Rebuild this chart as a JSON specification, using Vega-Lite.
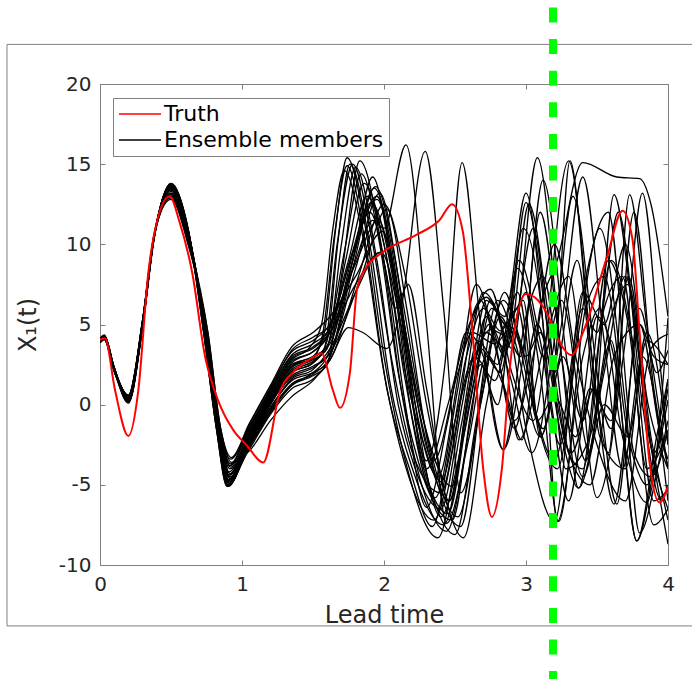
{
"$schema":"https://vega.github.io/schema/vega-lite/v6.json",
"width":568,"height":481,
"autosize":{"type":"none"},
"padding":{"left":100,"top":84,"right":24,"bottom":114},
"background":"white",
"config":{"view":{"stroke":"#808080","strokeWidth":1},"font":"DejaVu Sans"},
"datasets":{
"frame":[{"x1":-0.655,"x2":4.4,"y1":22.47,"y2":-13.8}],
"vline":[{"t":3.19,"y1":24.77,"y2":-17.5}],
"truth":[{"t":0,"v":4.05},{"t":0.035,"v":4.15},{"t":0.106,"v":0.9},{"t":0.2,"v":-1.95},{"t":0.27,"v":0.9},{"t":0.34,"v":8.2},{"t":0.4,"v":11.4},{"t":0.49,"v":13.0},{"t":0.56,"v":11.4},{"t":0.65,"v":8.2},{"t":0.74,"v":3.0},{"t":0.83,"v":0.3},{"t":0.94,"v":-1.6},{"t":1.03,"v":-2.5},{"t":1.15,"v":-3.6},{"t":1.27,"v":0.9},{"t":1.37,"v":2.1},{"t":1.49,"v":2.9},{"t":1.56,"v":3.2},{"t":1.64,"v":0.9},{"t":1.69,"v":-0.2},{"t":1.76,"v":2.0},{"t":1.81,"v":7.2},{"t":1.87,"v":8.5},{"t":1.99,"v":9.5},{"t":2.23,"v":10.6},{"t":2.39,"v":11.5},{"t":2.48,"v":12.5},{"t":2.555,"v":10.8},{"t":2.62,"v":4.9},{"t":2.7,"v":-4.1},{"t":2.76,"v":-7.0},{"t":2.83,"v":-4.0},{"t":2.89,"v":2.6},{"t":2.92,"v":4.7},{"t":3.0,"v":6.9},{"t":3.17,"v":5.3},{"t":3.22,"v":4.2},{"t":3.32,"v":3.1},{"t":3.41,"v":4.7},{"t":3.57,"v":9.2},{"t":3.68,"v":12.1},{"t":3.75,"v":10.3},{"t":3.8,"v":4.5},{"t":3.87,"v":-3.6},{"t":3.94,"v":-6.1},{"t":4.0,"v":-5.1}],
"ens":[
{"id":1,"t":0,"v":4.0},{"id":1,"t":0.03,"v":4.2},{"id":1,"t":0.1,"v":2.2},{"id":1,"t":0.2,"v":0.3},{"id":1,"t":0.3,"v":5.0},{"id":1,"t":0.38,"v":10.4},{"id":1,"t":0.5,"v":13.7},{"id":1,"t":0.62,"v":10.9},{"id":1,"t":0.74,"v":4.5},{"id":1,"t":0.83,"v":-1.5},{"id":1,"t":0.905,"v":-5.1},
{"id":1,"t":1.05,"v":-2.0},{"id":1,"t":1.2,"v":0.5},{"id":1,"t":1.35,"v":2.5},{"id":1,"t":1.5,"v":3.0},{"id":1,"t":1.58,"v":4.5},{"id":1,"t":1.66,"v":11},{"id":1,"t":1.74,"v":15.4},{"id":1,"t":1.86,"v":11.5},{"id":1,"t":2.0,"v":3},{"id":1,"t":2.15,"v":-3.5},{"id":1,"t":2.38,"v":-8.3},{"id":1,"t":2.55,"v":-1},{"id":1,"t":2.66,"v":4.0},{"id":1,"t":2.8,"v":2.5},{"id":1,"t":2.94,"v":8.5},{"id":1,"t":3.1,"v":2},{"id":1,"t":3.23,"v":-7.3},{"id":1,"t":3.42,"v":6},{"id":1,"t":3.55,"v":8},{"id":1,"t":3.72,"v":-2},{"id":1,"t":3.85,"v":-5},{"id":1,"t":4.0,"v":1.6},
{"id":2,"t":0,"v":4.1},{"id":2,"t":0.03,"v":4.3},{"id":2,"t":0.1,"v":2.3},{"id":2,"t":0.2,"v":0.5},{"id":2,"t":0.3,"v":5.2},{"id":2,"t":0.38,"v":10.5},{"id":2,"t":0.5,"v":13.6},{"id":2,"t":0.62,"v":10.8},{"id":2,"t":0.745,"v":4.5},{"id":2,"t":0.835,"v":-1.5},{"id":2,"t":0.91,"v":-4.9},
{"id":2,"t":1.05,"v":-2.4},{"id":2,"t":1.2,"v":0},{"id":2,"t":1.35,"v":2.0},{"id":2,"t":1.5,"v":2.6},{"id":2,"t":1.6,"v":4.0},{"id":2,"t":1.68,"v":10.5},{"id":2,"t":1.76,"v":15.0},{"id":2,"t":1.9,"v":10},{"id":2,"t":2.05,"v":1},{"id":2,"t":2.2,"v":-4},{"id":2,"t":2.42,"v":-7.5},{"id":2,"t":2.6,"v":0.5},{"id":2,"t":2.72,"v":5.5},{"id":2,"t":2.85,"v":3},{"id":2,"t":3.0,"v":12.6},{"id":2,"t":3.15,"v":5},{"id":2,"t":3.3,"v":-3},{"id":2,"t":3.4,"v":-4},{"id":2,"t":3.6,"v":9},{"id":2,"t":3.75,"v":4},{"id":2,"t":3.9,"v":-6},{"id":2,"t":4.0,"v":-5.3},
{"id":3,"t":0,"v":3.9},{"id":3,"t":0.03,"v":4.1},{"id":3,"t":0.1,"v":2.1},{"id":3,"t":0.2,"v":0.1},{"id":3,"t":0.3,"v":4.8},{"id":3,"t":0.38,"v":10.3},{"id":3,"t":0.5,"v":13.8},{"id":3,"t":0.62,"v":11.0},{"id":3,"t":0.735,"v":4.5},{"id":3,"t":0.825,"v":-1.5},{"id":3,"t":0.9,"v":-5.0},
{"id":3,"t":1.05,"v":-1.8},{"id":3,"t":1.2,"v":0.8},{"id":3,"t":1.35,"v":2.8},{"id":3,"t":1.48,"v":3.6},{"id":3,"t":1.56,"v":5},{"id":3,"t":1.64,"v":11},{"id":3,"t":1.72,"v":14.6},{"id":3,"t":1.85,"v":10.5},{"id":3,"t":2.0,"v":2},{"id":3,"t":2.15,"v":-3.8},{"id":3,"t":2.35,"v":-7.2},{"id":3,"t":2.5,"v":-2},{"id":3,"t":2.62,"v":5},{"id":3,"t":2.75,"v":7.2},{"id":3,"t":2.9,"v":2},{"id":3,"t":3.05,"v":-1},{"id":3,"t":3.3,"v":15.2},{"id":3,"t":3.5,"v":0},{"id":3,"t":3.62,"v":-6.2},{"id":3,"t":3.8,"v":5},{"id":3,"t":3.9,"v":3},{"id":3,"t":4.0,"v":2.5},
{"id":4,"t":0,"v":4.05},{"id":4,"t":0.03,"v":4.25},{"id":4,"t":0.1,"v":2.25},{"id":4,"t":0.2,"v":0.4},{"id":4,"t":0.3,"v":5.1},{"id":4,"t":0.38,"v":10.45},{"id":4,"t":0.5,"v":13.5},{"id":4,"t":0.62,"v":10.7},{"id":4,"t":0.75,"v":4.5},{"id":4,"t":0.84,"v":-1.5},{"id":4,"t":0.915,"v":-4.6},
{"id":4,"t":1.05,"v":-2.6},{"id":4,"t":1.2,"v":-0.3},{"id":4,"t":1.35,"v":1.2},{"id":4,"t":1.5,"v":1.8},{"id":4,"t":1.6,"v":2.5},{"id":4,"t":1.7,"v":8},{"id":4,"t":1.83,"v":15.2},{"id":4,"t":1.98,"v":10},{"id":4,"t":2.12,"v":1},{"id":4,"t":2.25,"v":-4.5},{"id":4,"t":2.44,"v":-7.9},{"id":4,"t":2.6,"v":-1.5},{"id":4,"t":2.75,"v":6.5},{"id":4,"t":2.9,"v":3.5},{"id":4,"t":3.08,"v":15.4},{"id":4,"t":3.25,"v":3},{"id":4,"t":3.37,"v":-5.2},{"id":4,"t":3.55,"v":6},{"id":4,"t":3.68,"v":8},{"id":4,"t":3.85,"v":-4},{"id":4,"t":4.0,"v":-1.6},
{"id":5,"t":0,"v":3.95},{"id":5,"t":0.03,"v":4.15},{"id":5,"t":0.1,"v":2.15},{"id":5,"t":0.2,"v":0.6},{"id":5,"t":0.3,"v":5.3},{"id":5,"t":0.38,"v":10.55},{"id":5,"t":0.5,"v":13.4},{"id":5,"t":0.62,"v":10.6},{"id":5,"t":0.74,"v":4.5},{"id":5,"t":0.83,"v":-1.5},{"id":5,"t":0.905,"v":-4.4},
{"id":5,"t":1.05,"v":-2.2},{"id":5,"t":1.2,"v":0.2},{"id":5,"t":1.35,"v":2.2},{"id":5,"t":1.5,"v":2.8},{"id":5,"t":1.6,"v":3.5},{"id":5,"t":1.7,"v":10},{"id":5,"t":1.8,"v":14.8},{"id":5,"t":1.95,"v":9},{"id":5,"t":2.1,"v":0},{"id":5,"t":2.22,"v":-4},{"id":5,"t":2.4,"v":-6.5},{"id":5,"t":2.55,"v":0},{"id":5,"t":2.7,"v":7},{"id":5,"t":2.82,"v":5},{"id":5,"t":2.95,"v":-2.2},{"id":5,"t":3.15,"v":4.5},{"id":5,"t":3.3,"v":8},{"id":5,"t":3.5,"v":-5.8},{"id":5,"t":3.7,"v":4},{"id":5,"t":3.82,"v":13.2},{"id":5,"t":3.95,"v":2},{"id":5,"t":4.0,"v":-2.5},
{"id":6,"t":0,"v":4.15},{"id":6,"t":0.03,"v":4.35},{"id":6,"t":0.1,"v":2.35},{"id":6,"t":0.2,"v":0.2},{"id":6,"t":0.3,"v":4.9},{"id":6,"t":0.38,"v":10.35},{"id":6,"t":0.5,"v":13.1},{"id":6,"t":0.62,"v":10.3},{"id":6,"t":0.75,"v":4.5},{"id":6,"t":0.84,"v":-1.5},{"id":6,"t":0.915,"v":-3.8},
{"id":6,"t":1.05,"v":-1.5},{"id":6,"t":1.2,"v":0.9},{"id":6,"t":1.35,"v":3.0},{"id":6,"t":1.5,"v":3.6},{"id":6,"t":1.6,"v":4.5},{"id":6,"t":1.75,"v":9},{"id":6,"t":1.88,"v":13.0},{"id":6,"t":2.0,"v":10},{"id":6,"t":2.15,"v":2},{"id":6,"t":2.3,"v":-3},{"id":6,"t":2.46,"v":-6.0},{"id":6,"t":2.6,"v":1},{"id":6,"t":2.72,"v":4.5},{"id":6,"t":2.86,"v":3.5},{"id":6,"t":3.0,"v":7},{"id":6,"t":3.12,"v":3},{"id":6,"t":3.25,"v":6.5},{"id":6,"t":3.45,"v":-3},{"id":6,"t":3.62,"v":13.1},{"id":6,"t":3.75,"v":6},{"id":6,"t":3.9,"v":-3.5},{"id":6,"t":4.0,"v":-6.5},
{"id":7,"t":0,"v":4.0},{"id":7,"t":0.03,"v":4.2},{"id":7,"t":0.1,"v":2.2},{"id":7,"t":0.2,"v":0.4},{"id":7,"t":0.3,"v":5.1},{"id":7,"t":0.38,"v":10.45},{"id":7,"t":0.5,"v":13.6},{"id":7,"t":0.62,"v":10.8},{"id":7,"t":0.73,"v":4.5},{"id":7,"t":0.82,"v":-1.5},{"id":7,"t":0.895,"v":-4.8},
{"id":7,"t":1.05,"v":-2.8},{"id":7,"t":1.2,"v":-0.6},{"id":7,"t":1.35,"v":1.0},{"id":7,"t":1.5,"v":1.6},{"id":7,"t":1.62,"v":3},{"id":7,"t":1.78,"v":9},{"id":7,"t":1.92,"v":14.2},{"id":7,"t":2.05,"v":9},{"id":7,"t":2.2,"v":0},{"id":7,"t":2.32,"v":-5},{"id":7,"t":2.5,"v":-8.1},{"id":7,"t":2.65,"v":-1},{"id":7,"t":2.8,"v":6.5},{"id":7,"t":2.92,"v":4},{"id":7,"t":3.1,"v":-2.0},{"id":7,"t":3.2,"v":2},{"id":7,"t":3.31,"v":15.2},{"id":7,"t":3.45,"v":4},{"id":7,"t":3.58,"v":-3},{"id":7,"t":3.73,"v":13.1},{"id":7,"t":3.85,"v":5},{"id":7,"t":4.0,"v":-4},
{"id":8,"t":0,"v":3.85},{"id":8,"t":0.03,"v":4.05},{"id":8,"t":0.1,"v":2.05},{"id":8,"t":0.2,"v":0.5},{"id":8,"t":0.3,"v":5.2},{"id":8,"t":0.38,"v":10.5},{"id":8,"t":0.5,"v":12.9},{"id":8,"t":0.62,"v":10.1},{"id":8,"t":0.755,"v":4.5},{"id":8,"t":0.845,"v":-1.5},{"id":8,"t":0.92,"v":-3.4},
{"id":8,"t":1.05,"v":-1.4},{"id":8,"t":1.2,"v":1.0},{"id":8,"t":1.35,"v":3.4},{"id":8,"t":1.5,"v":4.2},{"id":8,"t":1.62,"v":5},{"id":8,"t":1.78,"v":9.5},{"id":8,"t":1.95,"v":12.8},{"id":8,"t":2.1,"v":7},{"id":8,"t":2.25,"v":0},{"id":8,"t":2.48,"v":-5.1},{"id":8,"t":2.62,"v":2},{"id":8,"t":2.75,"v":4.7},{"id":8,"t":2.88,"v":4.2},{"id":8,"t":3.02,"v":12.5},{"id":8,"t":3.15,"v":6},{"id":8,"t":3.28,"v":-4},{"id":8,"t":3.45,"v":-2},{"id":8,"t":3.6,"v":5.5},{"id":8,"t":3.72,"v":7.5},{"id":8,"t":3.9,"v":-3},{"id":8,"t":4.0,"v":0.3},
{"id":9,"t":0,"v":4.1},{"id":9,"t":0.03,"v":4.3},{"id":9,"t":0.1,"v":2.3},{"id":9,"t":0.2,"v":0.3},{"id":9,"t":0.3,"v":5.0},{"id":9,"t":0.38,"v":10.4},{"id":9,"t":0.5,"v":13.5},{"id":9,"t":0.62,"v":10.7},{"id":9,"t":0.74,"v":4.5},{"id":9,"t":0.83,"v":-1.5},{"id":9,"t":0.905,"v":-4.2},
{"id":9,"t":1.05,"v":-2.0},{"id":9,"t":1.2,"v":0.4},{"id":9,"t":1.35,"v":2.4},{"id":9,"t":1.5,"v":3.0},{"id":9,"t":1.62,"v":3.8},{"id":9,"t":1.78,"v":9},{"id":9,"t":1.93,"v":13.5},{"id":9,"t":2.05,"v":10},{"id":9,"t":2.18,"v":2},{"id":9,"t":2.38,"v":-4.5},{"id":9,"t":2.55,"v":3},{"id":9,"t":2.68,"v":6.5},{"id":9,"t":2.8,"v":3},{"id":9,"t":2.92,"v":-1},{"id":9,"t":3.05,"v":3},{"id":9,"t":3.2,"v":10},{"id":9,"t":3.35,"v":3},{"id":9,"t":3.5,"v":-2.5},{"id":9,"t":3.7,"v":-6},{"id":9,"t":3.88,"v":3.5},{"id":9,"t":4.0,"v":4.4},
{"id":10,"t":0,"v":4.0},{"id":10,"t":0.03,"v":4.2},{"id":10,"t":0.1,"v":2.2},{"id":10,"t":0.2,"v":0.2},{"id":10,"t":0.3,"v":4.9},{"id":10,"t":0.38,"v":10.35},{"id":10,"t":0.5,"v":13.7},{"id":10,"t":0.62,"v":10.9},{"id":10,"t":0.745,"v":4.5},{"id":10,"t":0.835,"v":-1.5},{"id":10,"t":0.91,"v":-5.0},
{"id":10,"t":1.05,"v":-2.3},{"id":10,"t":1.2,"v":0.1},{"id":10,"t":1.35,"v":1.8},{"id":10,"t":1.5,"v":2.4},{"id":10,"t":1.62,"v":3.2},{"id":10,"t":1.8,"v":8.5},{"id":10,"t":1.97,"v":13.2},{"id":10,"t":2.12,"v":7},{"id":10,"t":2.28,"v":-1},{"id":10,"t":2.52,"v":-7.0},{"id":10,"t":2.68,"v":0},{"id":10,"t":2.82,"v":5.5},{"id":10,"t":2.96,"v":3},{"id":10,"t":3.12,"v":14},{"id":10,"t":3.3,"v":2},{"id":10,"t":3.42,"v":-3.5},{"id":10,"t":3.6,"v":4},{"id":10,"t":3.78,"v":-8.5},{"id":10,"t":3.92,"v":-2},{"id":10,"t":4.0,"v":1.6},
{"id":11,"t":0,"v":3.9},{"id":11,"t":0.03,"v":4.1},{"id":11,"t":0.1,"v":2.1},{"id":11,"t":0.2,"v":0.4},{"id":11,"t":0.3,"v":5.1},{"id":11,"t":0.38,"v":10.45},{"id":11,"t":0.5,"v":13.4},{"id":11,"t":0.62,"v":10.6},{"id":11,"t":0.75,"v":4.5},{"id":11,"t":0.84,"v":-1.5},{"id":11,"t":0.915,"v":-4.5},
{"id":11,"t":1.05,"v":-2.5},{"id":11,"t":1.2,"v":-0.2},{"id":11,"t":1.35,"v":1.5},{"id":11,"t":1.5,"v":2.0},{"id":11,"t":1.62,"v":2.8},{"id":11,"t":1.82,"v":8},{"id":11,"t":2.0,"v":12.5},{"id":11,"t":2.15,"v":8},{"id":11,"t":2.3,"v":0},{"id":11,"t":2.56,"v":-8.3},{"id":11,"t":2.72,"v":0},{"id":11,"t":2.86,"v":5},{"id":11,"t":3.0,"v":-1.5},{"id":11,"t":3.2,"v":-7.3},{"id":11,"t":3.4,"v":7},{"id":11,"t":3.55,"v":5},{"id":11,"t":3.7,"v":10},{"id":11,"t":3.88,"v":-2},{"id":11,"t":4.0,"v":-7.2},
{"id":12,"t":0,"v":4.05},{"id":12,"t":0.03,"v":4.25},{"id":12,"t":0.1,"v":2.25},{"id":12,"t":0.2,"v":0.55},{"id":12,"t":0.3,"v":5.25},{"id":12,"t":0.38,"v":10.5},{"id":12,"t":0.5,"v":13.2},{"id":12,"t":0.62,"v":10.4},{"id":12,"t":0.76,"v":4.5},{"id":12,"t":0.85,"v":-1.5},{"id":12,"t":0.925,"v":-3.3},
{"id":12,"t":1.05,"v":-1.2},{"id":12,"t":1.2,"v":1.2},{"id":12,"t":1.35,"v":3.6},{"id":12,"t":1.5,"v":4.5},{"id":12,"t":1.62,"v":5.5},{"id":12,"t":1.8,"v":8},{"id":12,"t":1.99,"v":10.8},{"id":12,"t":2.12,"v":6},{"id":12,"t":2.35,"v":-3.5},{"id":12,"t":2.52,"v":2},{"id":12,"t":2.62,"v":4.5},{"id":12,"t":2.78,"v":3.8},{"id":12,"t":2.9,"v":4.8},{"id":12,"t":3.05,"v":0},{"id":12,"t":3.2,"v":-3.5},{"id":12,"t":3.4,"v":6},{"id":12,"t":3.5,"v":4.5},{"id":12,"t":3.65,"v":12},{"id":12,"t":3.82,"v":0},{"id":12,"t":3.95,"v":-5.9},{"id":12,"t":4.0,"v":-5},
{"id":13,"t":0,"v":4.0},{"id":13,"t":0.03,"v":4.2},{"id":13,"t":0.1,"v":2.2},{"id":13,"t":0.2,"v":0.15},{"id":13,"t":0.3,"v":4.85},{"id":13,"t":0.38,"v":10.3},{"id":13,"t":0.5,"v":13.75},{"id":13,"t":0.62,"v":10.95},{"id":13,"t":0.73,"v":4.5},{"id":13,"t":0.82,"v":-1.5},{"id":13,"t":0.895,"v":-5.1},
{"id":13,"t":1.05,"v":-2.7},{"id":13,"t":1.2,"v":-0.5},{"id":13,"t":1.35,"v":1.2},{"id":13,"t":1.5,"v":2.0},{"id":13,"t":1.6,"v":3.0},{"id":13,"t":1.75,"v":8},{"id":13,"t":1.9,"v":12.0},{"id":13,"t":2.02,"v":8},{"id":13,"t":2.15,"v":0},{"id":13,"t":2.3,"v":-6.4},{"id":13,"t":2.45,"v":-1},{"id":13,"t":2.58,"v":4.5},{"id":13,"t":2.7,"v":3},{"id":13,"t":2.84,"v":-2.8},{"id":13,"t":3.0,"v":5.5},{"id":13,"t":3.12,"v":8},{"id":13,"t":3.3,"v":-3},{"id":13,"t":3.45,"v":-5},{"id":13,"t":3.62,"v":3},{"id":13,"t":3.8,"v":5},{"id":13,"t":3.95,"v":-2},{"id":13,"t":4.0,"v":-3.4},
{"id":14,"t":0,"v":4.1},{"id":14,"t":0.03,"v":4.3},{"id":14,"t":0.1,"v":2.3},{"id":14,"t":0.2,"v":0.35},{"id":14,"t":0.3,"v":5.05},{"id":14,"t":0.38,"v":10.4},{"id":14,"t":0.5,"v":13.55},{"id":14,"t":0.62,"v":10.75},{"id":14,"t":0.74,"v":4.5},{"id":14,"t":0.83,"v":-1.5},{"id":14,"t":0.905,"v":-4.7},
{"id":14,"t":1.05,"v":-1.9},{"id":14,"t":1.2,"v":0.6},{"id":14,"t":1.35,"v":2.6},{"id":14,"t":1.5,"v":3.3},{"id":14,"t":1.62,"v":4.5},{"id":14,"t":1.8,"v":9},{"id":14,"t":1.92,"v":11.5},{"id":14,"t":2.0,"v":11},{"id":14,"t":2.155,"v":16.2},{"id":14,"t":2.3,"v":5},{"id":14,"t":2.44,"v":-7.4},{"id":14,"t":2.6,"v":-2},{"id":14,"t":2.72,"v":3},{"id":14,"t":2.85,"v":1},{"id":14,"t":2.97,"v":-2.2},{"id":14,"t":3.1,"v":6},{"id":14,"t":3.22,"v":9},{"id":14,"t":3.4,"v":15.1},{"id":14,"t":3.64,"v":14.2},{"id":14,"t":3.8,"v":14.1},{"id":14,"t":3.88,"v":12.5},{"id":14,"t":4.0,"v":5.5},
{"id":15,"t":0,"v":3.95},{"id":15,"t":0.03,"v":4.15},{"id":15,"t":0.1,"v":2.15},{"id":15,"t":0.2,"v":0.6},{"id":15,"t":0.3,"v":5.3},{"id":15,"t":0.38,"v":10.55},{"id":15,"t":0.5,"v":12.8},{"id":15,"t":0.62,"v":10.0},{"id":15,"t":0.76,"v":4.5},{"id":15,"t":0.85,"v":-1.5},{"id":15,"t":0.925,"v":-3.6},
{"id":15,"t":1.05,"v":-2.9},{"id":15,"t":1.2,"v":-1.0},{"id":15,"t":1.35,"v":0.5},{"id":15,"t":1.5,"v":1.5},{"id":15,"t":1.62,"v":2.8},{"id":15,"t":1.75,"v":4.8},{"id":15,"t":1.85,"v":4.5},{"id":15,"t":2.02,"v":3.5},{"id":15,"t":2.12,"v":6},{"id":15,"t":2.29,"v":15.8},{"id":15,"t":2.42,"v":6},{"id":15,"t":2.54,"v":-5.5},{"id":15,"t":2.7,"v":1},{"id":15,"t":2.85,"v":7},{"id":15,"t":3.0,"v":3},{"id":15,"t":3.1,"v":4.5},{"id":15,"t":3.25,"v":-2},{"id":15,"t":3.37,"v":-5.2},{"id":15,"t":3.55,"v":2},{"id":15,"t":3.7,"v":8},{"id":15,"t":3.85,"v":-1},{"id":15,"t":4.0,"v":-8.7},
{"id":16,"t":0,"v":4.0},{"id":16,"t":0.03,"v":4.2},{"id":16,"t":0.1,"v":2.2},{"id":16,"t":0.2,"v":0.3},{"id":16,"t":0.3,"v":5.0},{"id":16,"t":0.38,"v":10.4},{"id":16,"t":0.5,"v":13.65},{"id":16,"t":0.62,"v":10.85},{"id":16,"t":0.745,"v":4.5},{"id":16,"t":0.835,"v":-1.5},{"id":16,"t":0.91,"v":-4.9},
{"id":16,"t":1.05,"v":-2.1},{"id":16,"t":1.2,"v":0.3},{"id":16,"t":1.35,"v":2.3},{"id":16,"t":1.5,"v":2.9},{"id":16,"t":1.62,"v":4},{"id":16,"t":1.8,"v":10},{"id":16,"t":1.95,"v":13.0},{"id":16,"t":2.08,"v":8},{"id":16,"t":2.3,"v":-3.5},{"id":16,"t":2.43,"v":2.6},{"id":16,"t":2.55,"v":15.1},{"id":16,"t":2.68,"v":5},{"id":16,"t":2.84,"v":-2.8},{"id":16,"t":2.98,"v":3},{"id":16,"t":3.1,"v":12},{"id":16,"t":3.25,"v":3},{"id":16,"t":3.4,"v":-4.5},{"id":16,"t":3.55,"v":0},{"id":16,"t":3.72,"v":-2},{"id":16,"t":3.85,"v":4},{"id":16,"t":4.0,"v":2.5},
{"id":17,"t":0,"v":4.05},{"id":17,"t":0.03,"v":4.25},{"id":17,"t":0.1,"v":2.25},{"id":17,"t":0.2,"v":0.45},{"id":17,"t":0.3,"v":5.15},{"id":17,"t":0.38,"v":10.5},{"id":17,"t":0.5,"v":13.3},{"id":17,"t":0.62,"v":10.5},{"id":17,"t":0.75,"v":4.5},{"id":17,"t":0.84,"v":-1.5},{"id":17,"t":0.915,"v":-4.0},
{"id":17,"t":1.05,"v":-2.4},{"id":17,"t":1.2,"v":-0.2},{"id":17,"t":1.35,"v":1.6},{"id":17,"t":1.5,"v":2.2},{"id":17,"t":1.62,"v":3.5},{"id":17,"t":1.8,"v":7},{"id":17,"t":1.97,"v":9.5},{"id":17,"t":2.08,"v":6},{"id":17,"t":2.17,"v":7.5},{"id":17,"t":2.3,"v":1},{"id":17,"t":2.46,"v":-6.0},{"id":17,"t":2.6,"v":1},{"id":17,"t":2.72,"v":6.5},{"id":17,"t":2.85,"v":5.5},{"id":17,"t":3.0,"v":13.2},{"id":17,"t":3.18,"v":0},{"id":17,"t":3.3,"v":-6},{"id":17,"t":3.45,"v":1},{"id":17,"t":3.6,"v":-1},{"id":17,"t":3.72,"v":8},{"id":17,"t":3.86,"v":0},{"id":17,"t":4.0,"v":-4},
{"id":18,"t":0,"v":3.9},{"id":18,"t":0.03,"v":4.1},{"id":18,"t":0.1,"v":2.1},{"id":18,"t":0.2,"v":0.5},{"id":18,"t":0.3,"v":5.2},{"id":18,"t":0.38,"v":10.5},{"id":18,"t":0.5,"v":13.0},{"id":18,"t":0.62,"v":10.2},{"id":18,"t":0.755,"v":4.5},{"id":18,"t":0.845,"v":-1.5},{"id":18,"t":0.92,"v":-3.9},
{"id":18,"t":1.05,"v":-1.7},{"id":18,"t":1.2,"v":0.7},{"id":18,"t":1.35,"v":2.9},{"id":18,"t":1.5,"v":3.5},{"id":18,"t":1.62,"v":4.5},{"id":18,"t":1.8,"v":7.5},{"id":18,"t":1.98,"v":9.5},{"id":18,"t":2.12,"v":5},{"id":18,"t":2.3,"v":-4.0},{"id":18,"t":2.45,"v":0},{"id":18,"t":2.6,"v":5},{"id":18,"t":2.72,"v":6.7},{"id":18,"t":2.86,"v":5},{"id":18,"t":2.98,"v":6.5},{"id":18,"t":3.1,"v":-2.0},{"id":18,"t":3.25,"v":5},{"id":18,"t":3.4,"v":14.2},{"id":18,"t":3.55,"v":4},{"id":18,"t":3.68,"v":-4},{"id":18,"t":3.82,"v":3},{"id":18,"t":4.0,"v":-6},
{"id":19,"t":0,"v":4.1},{"id":19,"t":0.03,"v":4.3},{"id":19,"t":0.1,"v":2.3},{"id":19,"t":0.2,"v":0.25},{"id":19,"t":0.3,"v":4.95},{"id":19,"t":0.38,"v":10.4},{"id":19,"t":0.5,"v":13.7},{"id":19,"t":0.62,"v":10.9},{"id":19,"t":0.735,"v":4.5},{"id":19,"t":0.825,"v":-1.5},{"id":19,"t":0.9,"v":-5.0},
{"id":19,"t":1.05,"v":-2.5},{"id":19,"t":1.2,"v":0},{"id":19,"t":1.35,"v":2.0},{"id":19,"t":1.5,"v":2.6},{"id":19,"t":1.58,"v":3.5},{"id":19,"t":1.67,"v":10},{"id":19,"t":1.78,"v":15.0},{"id":19,"t":1.9,"v":11},{"id":19,"t":2.05,"v":3},{"id":19,"t":2.2,"v":-3},{"id":19,"t":2.4,"v":-5.5},{"id":19,"t":2.56,"v":1},{"id":19,"t":2.68,"v":3.5},{"id":19,"t":2.82,"v":2},{"id":19,"t":2.98,"v":11},{"id":19,"t":3.12,"v":5},{"id":19,"t":3.22,"v":-7.3},{"id":19,"t":3.4,"v":3},{"id":19,"t":3.52,"v":6},{"id":19,"t":3.68,"v":-2},{"id":19,"t":3.85,"v":-6.1},{"id":19,"t":4.0,"v":5.4},
{"id":20,"t":0,"v":4.0},{"id":20,"t":0.03,"v":4.2},{"id":20,"t":0.1,"v":2.2},{"id":20,"t":0.2,"v":0.4},{"id":20,"t":0.3,"v":5.1},{"id":20,"t":0.38,"v":10.45},{"id":20,"t":0.5,"v":13.45},{"id":20,"t":0.62,"v":10.65},{"id":20,"t":0.745,"v":4.5},{"id":20,"t":0.835,"v":-1.5},{"id":20,"t":0.91,"v":-4.6},
{"id":20,"t":1.05,"v":-2.2},{"id":20,"t":1.2,"v":0.2},{"id":20,"t":1.35,"v":2.1},{"id":20,"t":1.5,"v":2.7},{"id":20,"t":1.6,"v":3.6},{"id":20,"t":1.73,"v":9},{"id":20,"t":1.86,"v":13.8},{"id":20,"t":2.0,"v":10},{"id":20,"t":2.14,"v":2},{"id":20,"t":2.28,"v":-4},{"id":20,"t":2.45,"v":-6.8},{"id":20,"t":2.6,"v":0},{"id":20,"t":2.74,"v":5},{"id":20,"t":2.88,"v":2},{"id":20,"t":3.04,"v":-3},{"id":20,"t":3.2,"v":4},{"id":20,"t":3.33,"v":13},{"id":20,"t":3.5,"v":2},{"id":20,"t":3.64,"v":-6.2},{"id":20,"t":3.8,"v":6},{"id":20,"t":3.92,"v":2},{"id":20,"t":4.0,"v":3.4},
{"id":21,"t":0,"v":3.95},{"id":21,"t":0.03,"v":4.15},{"id":21,"t":0.1,"v":2.15},{"id":21,"t":0.2,"v":0.2},{"id":21,"t":0.3,"v":4.9},{"id":21,"t":0.38,"v":10.35},{"id":21,"t":0.5,"v":13.6},{"id":21,"t":0.62,"v":10.8},{"id":21,"t":0.74,"v":4.5},{"id":21,"t":0.83,"v":-1.5},{"id":21,"t":0.905,"v":-4.8},
{"id":21,"t":1.05,"v":-2.6},{"id":21,"t":1.2,"v":-0.4},{"id":21,"t":1.35,"v":1.3},{"id":21,"t":1.5,"v":1.9},{"id":21,"t":1.62,"v":3},{"id":21,"t":1.78,"v":8.5},{"id":21,"t":1.94,"v":13.6},{"id":21,"t":2.08,"v":9},{"id":21,"t":2.22,"v":0},{"id":21,"t":2.4,"v":-7.0},{"id":21,"t":2.56,"v":-2},{"id":21,"t":2.68,"v":2.5},{"id":21,"t":2.8,"v":0},{"id":21,"t":2.95,"v":9},{"id":21,"t":3.1,"v":4},{"id":21,"t":3.24,"v":-2.5},{"id":21,"t":3.4,"v":7},{"id":21,"t":3.58,"v":12},{"id":21,"t":3.76,"v":-3},{"id":21,"t":3.88,"v":-4.5},{"id":21,"t":4.0,"v":-1.6},
{"id":22,"t":0,"v":4.05},{"id":22,"t":0.03,"v":4.25},{"id":22,"t":0.1,"v":2.25},{"id":22,"t":0.2,"v":0.5},{"id":22,"t":0.3,"v":5.2},{"id":22,"t":0.38,"v":10.5},{"id":22,"t":0.5,"v":13.2},{"id":22,"t":0.62,"v":10.4},{"id":22,"t":0.75,"v":4.5},{"id":22,"t":0.84,"v":-1.5},{"id":22,"t":0.915,"v":-4.3},
{"id":22,"t":1.05,"v":-1.6},{"id":22,"t":1.2,"v":0.9},{"id":22,"t":1.35,"v":3.1},{"id":22,"t":1.5,"v":3.8},{"id":22,"t":1.62,"v":4.8},{"id":22,"t":1.76,"v":9},{"id":22,"t":1.91,"v":12.6},{"id":22,"t":2.06,"v":8},{"id":22,"t":2.2,"v":-1},{"id":22,"t":2.36,"v":-5.8},{"id":22,"t":2.52,"v":1},{"id":22,"t":2.65,"v":7.5},{"id":22,"t":2.78,"v":4},{"id":22,"t":2.92,"v":-1.5},{"id":22,"t":3.08,"v":5},{"id":22,"t":3.2,"v":2},{"id":22,"t":3.36,"v":9},{"id":22,"t":3.52,"v":-2},{"id":22,"t":3.7,"v":-4},{"id":22,"t":3.85,"v":4.5},{"id":22,"t":4.0,"v":-2.5},
{"id":23,"t":0,"v":4.0},{"id":23,"t":0.03,"v":4.2},{"id":23,"t":0.1,"v":2.2},{"id":23,"t":0.2,"v":0.3},{"id":23,"t":0.3,"v":5.0},{"id":23,"t":0.38,"v":10.4},{"id":23,"t":0.5,"v":13.8},{"id":23,"t":0.62,"v":11.0},{"id":23,"t":0.73,"v":4.5},{"id":23,"t":0.82,"v":-1.5},{"id":23,"t":0.895,"v":-5.1},
{"id":23,"t":1.05,"v":-2.1},{"id":23,"t":1.2,"v":0.4},{"id":23,"t":1.35,"v":2.4},{"id":23,"t":1.5,"v":2.9},{"id":23,"t":1.57,"v":4.5},{"id":23,"t":1.65,"v":10.5},{"id":23,"t":1.74,"v":14.9},{"id":23,"t":1.87,"v":10},{"id":23,"t":2.02,"v":1},{"id":23,"t":2.18,"v":-4},{"id":23,"t":2.34,"v":-7.6},{"id":23,"t":2.5,"v":-1},{"id":23,"t":2.64,"v":3},{"id":23,"t":2.78,"v":1.5},{"id":23,"t":2.94,"v":7},{"id":23,"t":3.08,"v":-1},{"id":23,"t":3.22,"v":-4},{"id":23,"t":3.38,"v":5},{"id":23,"t":3.52,"v":11},{"id":23,"t":3.7,"v":0},{"id":23,"t":3.8,"v":-8.0},{"id":23,"t":3.95,"v":-3},{"id":23,"t":4.0,"v":-1},
{"id":24,"t":0,"v":3.9},{"id":24,"t":0.03,"v":4.1},{"id":24,"t":0.1,"v":2.1},{"id":24,"t":0.2,"v":0.4},{"id":24,"t":0.3,"v":5.1},{"id":24,"t":0.38,"v":10.45},{"id":24,"t":0.5,"v":13.4},{"id":24,"t":0.62,"v":10.6},{"id":24,"t":0.745,"v":4.5},{"id":24,"t":0.835,"v":-1.5},{"id":24,"t":0.91,"v":-4.4},
{"id":24,"t":1.05,"v":-2.3},{"id":24,"t":1.2,"v":0.1},{"id":24,"t":1.35,"v":1.7},{"id":24,"t":1.5,"v":2.3},{"id":24,"t":1.62,"v":3.2},{"id":24,"t":1.84,"v":8},{"id":24,"t":2.02,"v":12.2},{"id":24,"t":2.16,"v":6},{"id":24,"t":2.3,"v":-2},{"id":24,"t":2.54,"v":-7.6},{"id":24,"t":2.7,"v":1.5},{"id":24,"t":2.84,"v":6.5},{"id":24,"t":2.96,"v":4},{"id":24,"t":3.12,"v":-1.5},{"id":24,"t":3.26,"v":3},{"id":24,"t":3.4,"v":-1},{"id":24,"t":3.58,"v":9},{"id":24,"t":3.72,"v":5},{"id":24,"t":3.9,"v":-7.5},{"id":24,"t":4.0,"v":-6.5},
{"id":25,"t":0,"v":4.1},{"id":25,"t":0.03,"v":4.3},{"id":25,"t":0.1,"v":2.3},{"id":25,"t":0.2,"v":0.35},{"id":25,"t":0.3,"v":5.05},{"id":25,"t":0.38,"v":10.4},{"id":25,"t":0.5,"v":13.5},{"id":25,"t":0.62,"v":10.7},{"id":25,"t":0.74,"v":4.5},{"id":25,"t":0.83,"v":-1.5},{"id":25,"t":0.905,"v":-4.7},
{"id":25,"t":1.05,"v":-1.9},{"id":25,"t":1.2,"v":0.6},{"id":25,"t":1.35,"v":2.7},{"id":25,"t":1.5,"v":3.3},{"id":25,"t":1.6,"v":4.2},{"id":25,"t":1.72,"v":9.5},{"id":25,"t":1.84,"v":14.4},{"id":25,"t":1.97,"v":10},{"id":25,"t":2.1,"v":2},{"id":25,"t":2.24,"v":-3.5},{"id":25,"t":2.48,"v":-7.2},{"id":25,"t":2.62,"v":0},{"id":25,"t":2.76,"v":6},{"id":25,"t":2.9,"v":4.5},{"id":25,"t":3.05,"v":11},{"id":25,"t":3.2,"v":1},{"id":25,"t":3.32,"v":-3},{"id":25,"t":3.48,"v":1},{"id":25,"t":3.6,"v":-1.5},{"id":25,"t":3.76,"v":12},{"id":25,"t":3.9,"v":1},{"id":25,"t":4.0,"v":-4},
{"id":26,"t":0,"v":4.0},{"id":26,"t":0.03,"v":4.2},{"id":26,"t":0.1,"v":2.2},{"id":26,"t":0.2,"v":0.55},{"id":26,"t":0.3,"v":5.25},{"id":26,"t":0.38,"v":10.5},{"id":26,"t":0.5,"v":13.1},{"id":26,"t":0.62,"v":10.3},{"id":26,"t":0.755,"v":4.5},{"id":26,"t":0.845,"v":-1.5},{"id":26,"t":0.92,"v":-3.7},
{"id":26,"t":1.05,"v":-1.3},{"id":26,"t":1.2,"v":1.1},{"id":26,"t":1.35,"v":3.3},{"id":26,"t":1.5,"v":4.0},{"id":26,"t":1.62,"v":5},{"id":26,"t":1.8,"v":8.8},{"id":26,"t":1.96,"v":11.5},{"id":26,"t":2.1,"v":6.5},{"id":26,"t":2.25,"v":-0.5},{"id":26,"t":2.4,"v":-4.8},{"id":26,"t":2.58,"v":3},{"id":26,"t":2.7,"v":6},{"id":26,"t":2.82,"v":4.6},{"id":26,"t":2.94,"v":6},{"id":26,"t":3.08,"v":-1},{"id":26,"t":3.2,"v":0.5},{"id":26,"t":3.35,"v":-2},{"id":26,"t":3.5,"v":5.5},{"id":26,"t":3.64,"v":2},{"id":26,"t":3.78,"v":-8.5},{"id":26,"t":3.9,"v":-4},{"id":26,"t":4.0,"v":1.0}
]},
"layer":[
{"data":{"name":"frame"},"mark":{"type":"rect","fill":"white","fillOpacity":0,"stroke":"#808080","strokeWidth":1,"clip":false},
 "encoding":{"x":{"field":"x1","type":"quantitative","scale":{"domain":[0,4],"nice":false,"zero":false},"axis":null},"x2":{"field":"x2"},"y":{"field":"y1","type":"quantitative","scale":{"domain":[-10,20],"nice":false,"zero":false},"axis":null},"y2":{"field":"y2"}}},
{"data":{"name":"ens"},"mark":{"type":"line","interpolate":"monotone","strokeWidth":1.3,"clip":true},
 "encoding":{
  "x":{"field":"t","type":"quantitative","scale":{"domain":[0,4],"nice":false,"zero":false},
   "axis":{"orient":"bottom","values":[0,1,2,3,4],"title":"Lead time","titleFontSize":24,"titleFontWeight":"normal","titleColor":"#262626","titleFont":"DejaVu Sans","labelFont":"DejaVu Sans","labelFontSize":20,"labelColor":"#262626","domain":false,"grid":false,"tickSize":-5,"tickColor":"#808080","labelPadding":14,"titlePadding":9,"labelFlush":false}},
  "y":{"field":"v","type":"quantitative","scale":{"domain":[-10,20],"nice":false,"zero":false},
   "axis":{"orient":"left","values":[-10,-5,0,5,10,15,20],"title":"X₁(t)","labelExpr":"datum.value < 0 ? '-' + abs(datum.value) : '' + datum.value","titleFontSize":24,"titleFontWeight":"normal","titleColor":"#262626","titleFont":"DejaVu Sans","labelFont":"DejaVu Sans","labelFontSize":20,"labelColor":"#262626","domain":false,"grid":false,"tickSize":-5,"tickColor":"#808080","labelPadding":14,"titlePadding":18,"labelFlush":false}},
  "detail":{"field":"id","type":"nominal"},
  "color":{"datum":"Ensemble members","type":"nominal","scale":{"domain":["Truth","Ensemble members"],"range":["#ff0000","#000000"]},
   "legend":{"title":null,"orient":"none","legendX":13,"legendY":14,"symbolType":"M-2.1,0H2.1","symbolSize":400,"symbolOffset":11,"symbolStrokeWidth":1.6,"labelFontSize":22,"labelFont":"DejaVu Sans","labelColor":"#000000","labelLimit":0,"strokeColor":"#808080","fillColor":"white","padding":5,"rowPadding":4,"labelOffset":13}}}},
{"data":{"name":"truth"},"mark":{"type":"line","interpolate":"monotone","strokeWidth":2,"clip":true},
 "encoding":{
  "x":{"field":"t","type":"quantitative","scale":{"domain":[0,4],"nice":false,"zero":false},
   "axis":{"orient":"top","values":[0,1,2,3,4],"labels":false,"title":null,"domain":false,"grid":false,"tickSize":-5,"tickColor":"#808080"}},
  "y":{"field":"v","type":"quantitative","scale":{"domain":[-10,20],"nice":false,"zero":false},
   "axis":{"orient":"right","values":[-10,-5,0,5,10,15,20],"labels":false,"title":null,"domain":false,"grid":false,"tickSize":-5,"tickColor":"#808080"}},
  "color":{"datum":"Truth","type":"nominal"}}},
{"data":{"name":"vline"},"mark":{"type":"rule","color":"#00ff00","strokeWidth":8,"strokeDash":[15,16.6],"clip":false},
 "encoding":{"x":{"field":"t","type":"quantitative","scale":{"domain":[0,4],"nice":false,"zero":false},"axis":null},"y":{"field":"y1","type":"quantitative","scale":{"domain":[-10,20],"nice":false,"zero":false},"axis":null},"y2":{"field":"y2"}}}
],
"resolve":{"axis":{"x":"independent","y":"independent"}}
}
